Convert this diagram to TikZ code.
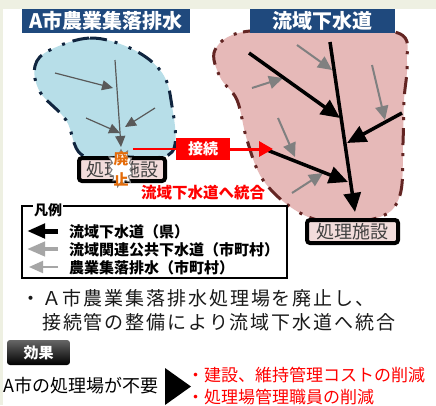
\documentclass[tikz,border=0pt]{standalone}
\usepackage{fontspec}
\setmainfont{Noto Sans CJK JP}
\usetikzlibrary{arrows.meta}
\usetikzlibrary{shapes.symbols}

\definecolor{bandgreen}{HTML}{EEF0E2}
\definecolor{titleblue}{HTML}{1F497D}
\definecolor{skyfill}{HTML}{B7DEE8}
\definecolor{navyline}{HTML}{10253F}
\definecolor{pinkfill}{HTML}{E6B9B8}
\definecolor{maroonline}{HTML}{632523}
\definecolor{boxpink}{HTML}{F2DCDB}
\definecolor{haiorange}{HTML}{E46C0A}
\definecolor{midgray}{HTML}{808080}

\tikzset{
  titlebox/.style={fill=titleblue, text=white, inner sep=0pt, minimum height=24pt,
    font=\fontsize{20}{22}\selectfont\bfseries},
  plantbox/.style={draw=black, line width=4pt, rounded corners=3pt, fill=boxpink,
    text=black!75, inner sep=0pt, minimum height=23pt, font=\fontsize{18}{20}\selectfont},
  areaedge/.style={line width=3pt, dash pattern=on 17pt off 8pt on 3pt off 12pt on 3pt off 8pt},
  mainflow/.style={line width=3.5pt, -{Triangle[length=19pt,width=17pt]}},
  subflow/.style={line width=2pt, midgray, -{Triangle[length=14pt,width=13pt]}},
  farmflow/.style={line width=1.2pt, black!65, -{Triangle[length=11pt,width=10pt]}},
  legendtext/.style={anchor=west, inner sep=0pt, font=\fontsize{15}{17}\selectfont\bfseries},
}

\begin{document}
\begin{tikzpicture}[x=1pt,y=-1pt]
\useasboundingbox (0,0) rectangle (436,405);
\fill[bandgreen] (0,0) rectangle (436,405);
\fill[white] (3,9) rectangle (436,405);

% A-shi farm area
\draw[areaedge, fill=skyfill, draw=navyline]
  plot[smooth cycle, tension=0.6] coordinates {(50,50) (90,38) (130,48) (160,70) (171,100) (172,152)
  (125,157) (82,155) (66,120) (40,92) (35,66)};

% basin area
\draw[areaedge, fill=pinkfill, draw=maroonline]
  plot[smooth cycle, tension=0.6] coordinates {(215,50) (243,32) (320,30) (398,33) (407,62) (404,100)
  (403,143) (400,195) (380,217) (330,222) (295,210) (263,180) (247,140) (237,100) (220,77)};

\draw[farmflow] (115,60) -- (121,147);
\draw[farmflow] (55,73) -- (113,88);
\draw[farmflow] (86,118) -- (120,133);
\draw[farmflow] (155,108) -- (125,127);

\draw[subflow] (297,45) -- (332,70);
\draw[subflow] (252,88) -- (283,78);
\draw[subflow] (372,65) -- (385,120);
\draw[subflow] (278,118) -- (295,157);
\draw[subflow] (292,193) -- (323,173);

\draw[mainflow] (330,42) -- (355,212);
\draw[mainflow] (249,53) -- (340,118);
\draw[mainflow] (402,113) -- (347,143);
\draw[mainflow] (267,150) -- (348,182);

\node[titlebox, minimum width=168pt] (farmtitle) at (106,21) {A市農業集落排水};
\node[titlebox, minimum width=145pt] (basintitle) at (322.5,21) {流域下水道};

\node[plantbox, minimum width=86pt] (oldplant) at (122,169.5) {処理施設};
\node[plantbox, minimum width=91pt] (newplant) at (352.5,231.5) {処理施設};

\node[starburst, starburst points=13, starburst point height=6pt, fill=white, draw=gray,
  line width=1pt, minimum width=30pt, minimum height=40pt, inner sep=0pt] (burst) at (121,168) {};
\node[text=haiorange, align=center, inner sep=0pt, font=\fontsize{15}{21}\selectfont\bfseries] (haishi) at (121,169) {廃\\止};

% connection pipe
\node[fill=red, text=white, minimum width=54pt, minimum height=22pt, inner sep=0pt,
  font=\fontsize{15}{17}\selectfont\bfseries] (setsuzoku) at (203,149) {接続};
\coordinate (pipestart) at (133,149);
\coordinate (pipeend) at (273,149);
\draw[red, line width=2.5pt] (pipestart) -- (setsuzoku.west);
\draw[red, line width=3pt, -{Triangle[length=14pt,width=15pt]}] (setsuzoku.east) -- (pipeend);
\node[text=red, font=\fontsize{15.5}{17}\selectfont\bfseries] (tougou) at (203,193) {流域下水道へ統合};

% legend
\node[draw, line width=1.2pt, minimum width=265pt, minimum height=72pt, inner sep=0pt] (legend) at (154.5,242) {};
\node[fill=white, inner sep=1pt, font=\fontsize{14}{16}\selectfont\bfseries] (hanrei) at (48,210) {凡例};
\draw[line width=5pt, -{Triangle[length=18pt,width=14pt]}] (58,231) -- (27,231);
\draw[line width=4pt, gray!70, -{Triangle[length=18pt,width=14pt]}] (58,249) -- (27,249);
\draw[line width=2pt, gray!70, -{Triangle[length=14pt,width=12pt]}] (58,267) -- (29,267);
\node[legendtext] (lgmain) at (69,232) {流域下水道（県）};
\node[legendtext] (lgsub) at (69,250) {流域関連公共下水道（市町村）};
\node[legendtext] (lgfarm) at (69,268) {農業集落排水（市町村）};

\node[anchor=west, align=left, inner sep=0pt, text=black!90,
  font=\fontsize{19}{24}\selectfont\addfontfeatures{LetterSpace=10}] (summary) at (21,310)
  {・Ａ市農業集落排水処理場を廃止し、\\\hspace{21pt}接続管の整備により流域下水道へ統合};

\node[top color=gray!80!black, bottom color=black, rounded corners=3pt, text=white,
  minimum width=63pt, minimum height=25pt, inner sep=0pt,
  font=\fontsize{15}{17}\selectfont\bfseries] (kouka) at (38.5,352.5) {効果};
\node[anchor=west, inner sep=0pt, font=\fontsize{18}{20}\selectfont] (fuyou) at (3,386) {A市の処理場が不要};
\fill (165,368) -- (165,405) -- (191,386.5) -- cycle;
\node[anchor=west, align=left, inner sep=0pt, text=red, font=\fontsize{17}{22}\selectfont] (effects) at (187,386)
  {・建設、維持管理コストの削減\\・処理場管理職員の削減};
\end{tikzpicture}
\end{document}
